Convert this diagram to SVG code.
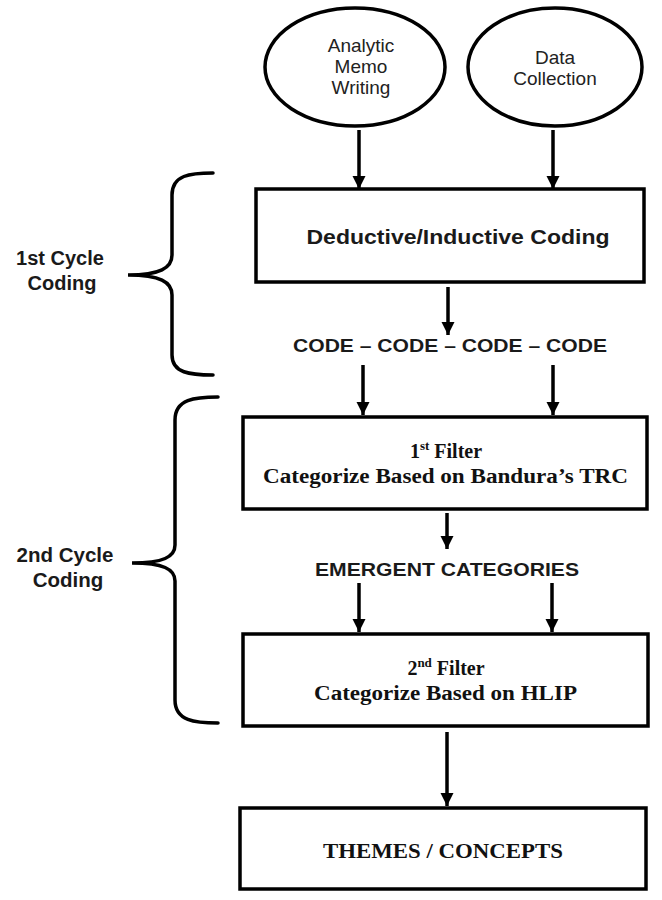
<svg xmlns="http://www.w3.org/2000/svg" width="662" height="900" viewBox="0 0 662 900">
<style>
.shape{fill:#fff;stroke:#000;stroke-width:3.5}
.brace{fill:none;stroke:#000;stroke-width:3.5;stroke-linecap:round}
.conn{stroke:#000;stroke-width:3.5;fill:none}
.sans{font-family:"Liberation Sans",Arial,sans-serif;fill:#1a1a1a;text-anchor:middle}
.oval{font-size:19px;fill:#222}
.bold{font-weight:bold}
.serif{font-family:"Liberation Serif","Times New Roman",serif;font-weight:bold;fill:#111;text-anchor:middle}
</style>
<defs>
<marker id="ah" markerUnits="userSpaceOnUse" markerWidth="14" markerHeight="14" refX="13" refY="7" orient="auto">
<path d="M0,0.5 L13,7 L0,13.5 z" fill="#000"/>
</marker>
</defs>
<rect width="662" height="900" fill="#fff"/>

<g id="connectors">
<line class="conn" x1="359" y1="130" x2="359" y2="189" marker-end="url(#ah)"/>
<line class="conn" x1="553" y1="130" x2="553" y2="189" marker-end="url(#ah)"/>
<line class="conn" x1="448" y1="287" x2="448" y2="335" marker-end="url(#ah)"/>
<line class="conn" x1="363" y1="365" x2="363" y2="415" marker-end="url(#ah)"/>
<line class="conn" x1="553" y1="365" x2="553" y2="415" marker-end="url(#ah)"/>
<line class="conn" x1="447" y1="513" x2="447" y2="549" marker-end="url(#ah)"/>
<line class="conn" x1="359" y1="583" x2="359" y2="632" marker-end="url(#ah)"/>
<line class="conn" x1="552" y1="583" x2="552" y2="632" marker-end="url(#ah)"/>
<line class="conn" x1="447" y1="732" x2="447" y2="806" marker-end="url(#ah)"/>
</g>

<g id="memo">
<ellipse class="shape" cx="355" cy="67" rx="90" ry="59"/>
<text class="sans oval" x="361" y="52">Analytic</text>
<text class="sans oval" x="361" y="73">Memo</text>
<text class="sans oval" x="361" y="94">Writing</text>
</g>

<g id="data">
<ellipse class="shape" cx="555" cy="67" rx="87" ry="59"/>
<text class="sans oval" x="555" y="64">Data</text>
<text class="sans oval" x="555" y="85">Collection</text>
</g>

<g id="coding">
<rect class="shape" x="256" y="189" width="388" height="93"/>
<text class="sans bold" font-size="21" x="458" y="244" textLength="303" lengthAdjust="spacingAndGlyphs">Deductive/Inductive Coding</text>
</g>

<g id="codes">
<text class="sans bold" font-size="19" x="450" y="352" textLength="314" lengthAdjust="spacingAndGlyphs">CODE – CODE – CODE – CODE</text>
</g>

<g id="filter1">
<rect class="shape" x="243" y="417" width="404" height="92"/>
<text class="serif" font-size="20" x="446" y="458">1<tspan font-size="13" dy="-8">st</tspan><tspan dy="8"> Filter</tspan></text>
<text class="serif" font-size="20" x="445.5" y="483" textLength="365" lengthAdjust="spacingAndGlyphs">Categorize Based on Bandura’s TRC</text>
</g>

<g id="emergent">
<text class="sans bold" font-size="19" x="447" y="576" textLength="264" lengthAdjust="spacingAndGlyphs">EMERGENT CATEGORIES</text>
</g>

<g id="filter2">
<rect class="shape" x="243" y="634" width="405" height="92"/>
<text class="serif" font-size="20" x="446" y="675">2<tspan font-size="13" dy="-8">nd</tspan><tspan dy="8"> Filter</tspan></text>
<text class="serif" font-size="20" x="445.5" y="700" textLength="263" lengthAdjust="spacingAndGlyphs">Categorize Based on HLIP</text>
</g>

<g id="themes">
<rect class="shape" x="240" y="808" width="406" height="81"/>
<text class="serif" font-size="21" x="443" y="858" textLength="240" lengthAdjust="spacingAndGlyphs">THEMES / CONCEPTS</text>
</g>

<g id="cycle1">
<path class="brace" d="M213,173 C190,173 172,175 172,195 L172,255 C172,268 160,275 128,275 C160,275 172,282 172,295 L172,355 C172,373 190,375 213,375"/>
<text class="sans bold" font-size="20" x="60" y="265">1st Cycle</text>
<text class="sans bold" font-size="20" x="62" y="290">Coding</text>
</g>

<g id="cycle2">
<path class="brace" d="M218,397 C195,397 175,399 175,420 L175,545 C175,557 163,563 132,563 C163,563 175,569 175,581 L175,700 C175,721 195,723 218,723"/>
<text class="sans bold" font-size="20.5" x="65" y="562">2nd Cycle</text>
<text class="sans bold" font-size="20.5" x="68" y="587">Coding</text>
</g>
</svg>
